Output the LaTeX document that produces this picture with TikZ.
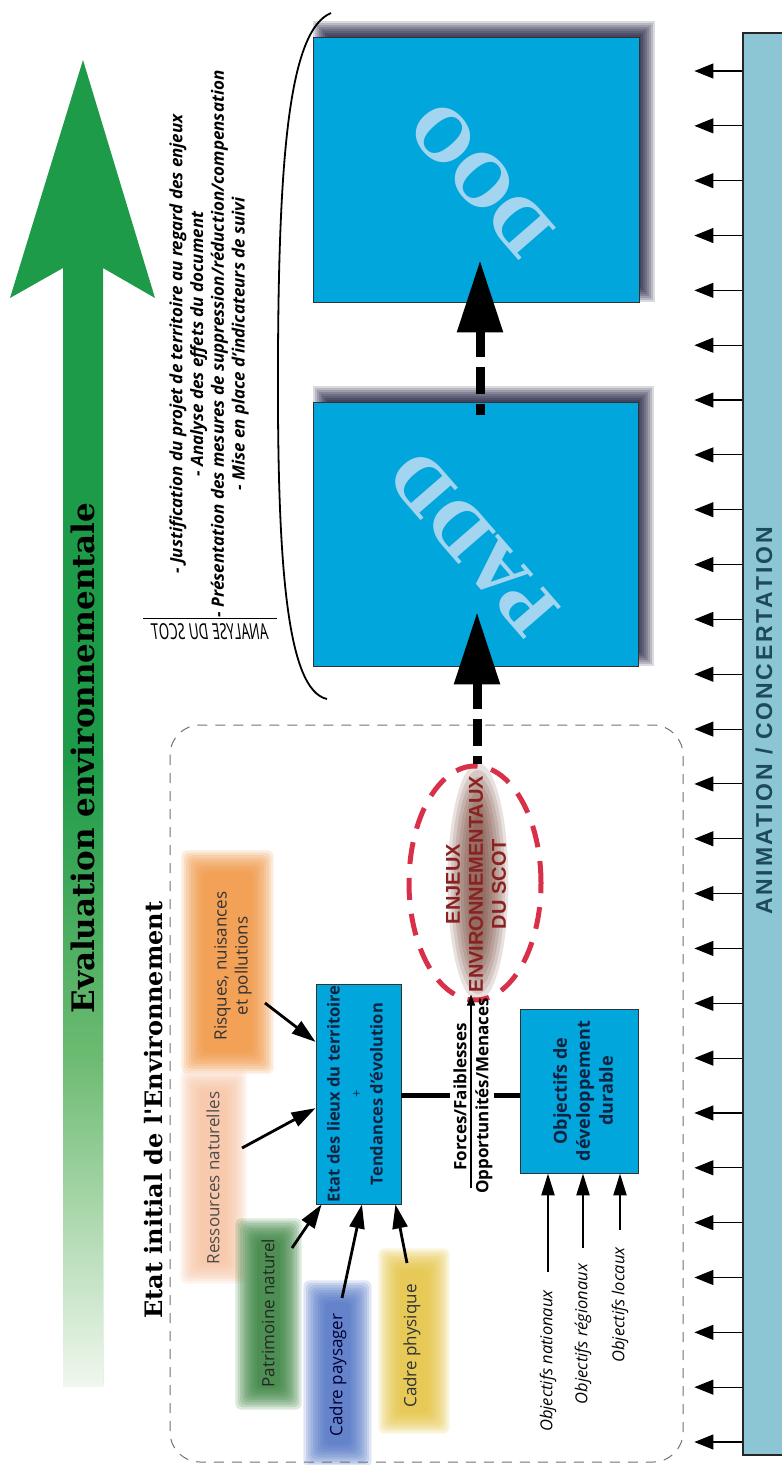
\documentclass[tikz,border=0pt]{standalone}
\usepackage{fontspec}
\setmainfont{Open Sans}
\newfontfamily\dser{DejaVu Serif}
\newfontfamily\lib{Liberation Sans}
\newfontfamily\libsp{Liberation Sans}[LetterSpace=12]
\usetikzlibrary{arrows.meta,calc,shapes.geometric}
\definecolor{boxblue}{HTML}{00A6DC}
\definecolor{letterblue}{HTML}{A3D5F0}
\definecolor{panelfill}{HTML}{8CC6D4}
\definecolor{paneltext}{HTML}{1D4A5A}
\definecolor{evgreen}{HTML}{1E9B48}
\definecolor{evmid}{HTML}{6DBB72}
\definecolor{evpale}{HTML}{F0F7EE}
\definecolor{enjred}{HTML}{D9304A}
\definecolor{enjtext}{HTML}{8A2222}
\definecolor{enjshadow}{HTML}{6E3B2B}
\definecolor{orangeB}{HTML}{F2923A}
\definecolor{peachB}{HTML}{F8C2A0}
\definecolor{greenB}{HTML}{2F7D35}
\definecolor{blueB}{HTML}{4A70C4}
\definecolor{yellowB}{HTML}{E6C23A}
\definecolor{boxtext}{HTML}{0F2340}
\newcommand\softblob[5]{%
  \foreach \dd in {0,...,9}{%
    \fill[#5,opacity=0.17,rounded corners=6pt] (#1+10-2.4*\dd,#2+10-2.4*\dd) rectangle (#3-10+2.4*\dd,#4-10+2.4*\dd);}}
\newcommand\boxshade[4]{%
  \foreach \dd in {0,...,7}{%
    \fill[black!85!blue,opacity=0.15] (#1+14-2*\dd,#2-2-2*\dd) rectangle (#3+2+2*\dd,#4-14+2*\dd);}}
\begin{document}
\begin{tikzpicture}[x=1pt,y=-1pt,
  bluebox/.style={draw=black!80, line width=0.9pt, fill=boxblue, inner sep=0pt},
  boxtxt/.style={rotate=90, align=center, text=boxtext},
  inarrow/.style={line width=2.8pt, -{Triangle[length=24pt,width=15pt]}},
  objarrow/.style={line width=2.4pt, -{Triangle[length=22pt,width=13pt]}},
  panelarrow/.style={line width=1.1pt, -{Triangle[length=19pt,width=15pt]}},
  bigdash/.style={line width=9pt, dash pattern=on 27pt off 10pt},
  thickline/.style={line width=5pt},
  fracarrow/.style={line width=1.2pt, -{Triangle[length=11pt,width=8pt]}},
  blobtxt/.style={rotate=90, align=center, font=\fontsize{17}{21}\selectfont},
  objtxt/.style={rotate=90, font=\itshape\fontsize{16.5}{18}\selectfont},
]
\useasboundingbox (0,0) rectangle (782,1465);
\fill[white] (0,0) rectangle (782,1465);

% green arrow
\fill[evgreen] (83,60) -- (155,298) -- (103,268) -- (103,1385) -- (63,1385) -- (63,268) -- (10,298) -- cycle;
\shade[top color=evgreen, bottom color=evmid] (63,760) rectangle (103,1060);
\shade[top color=evmid, bottom color=evpale] (63,1059) rectangle (103,1386);
\node[rotate=90, font=\dser\bfseries\fontsize{31}{31}\selectfont] (evtxt) at (83,758) {Evaluation environnementale};

% dashed frame
\draw[black!55, line width=1pt, dash pattern=on 10pt off 8pt, rounded corners=30pt] (170,725) rectangle (683,1462);
\node[rotate=90, font=\dser\bfseries\fontsize{24}{24}\selectfont] (eititle) at (154,1110) {Etat initial de l'Environnement};

% bracket and analyse text
\coordinate (brT) at (331,13);
\coordinate (brB) at (327,699);
\draw[line width=1.8pt] (brT) .. controls (290,30) and (279,150) .. (278,355) .. controls (277,560) and (286,690) .. (brB);
\node[rotate=90, align=center, font=\bfseries\itshape\fontsize{17}{20.7}\selectfont] (bullets) at (209,344)
  {- Justification du projet de territoire au regard des enjeux\\- Analyse des effets du document\\- Présentation des mesures de suppression/réduction/compensation\\- Mise en place d'indicateurs de suivi};
\node[xscale=-0.66, font=\itshape\fontsize{22}{22}\selectfont, inner sep=0pt] (analyse) at (210,632) {ANALYSE DU SCOT};
\draw[line width=1pt] (143,618) -- (277,618);

% PADD / DOO boxes
\boxshade{313}{37}{639}{302}
\boxshade{313}{402}{638}{666}
\node[bluebox, minimum width=326pt, minimum height=265pt] (doo) at (476,169.5) {};
\node[bluebox, minimum width=325pt, minimum height=264pt] (padd) at (475.5,534) {};
\node[rotate=131, font=\dser\bfseries\fontsize{68}{68}\selectfont, text=letterblue] (dootxt) at (482,180) {DOO};
\node[rotate=131, font=\dser\bfseries\fontsize{68}{68}\selectfont, text=letterblue] (paddtxt) at (474,544) {PADD};

% blobs
\softblob{193}{862}{262}{1062}{orangeB}
\softblob{192}{1082}{235}{1272}{peachB}
\softblob{247}{1230}{290}{1398}{greenB}
\softblob{315}{1292}{360}{1455}{blueB}
\softblob{390}{1260}{438}{1422}{yellowB}
\node[blobtxt, text=black!80] (risq) at (233,966) {Risques, nuisances\\et pollutions};
\node[blobtxt, text=black!70] (ress) at (213,1178) {Ressources naturelles};
\node[blobtxt, text=black!85] (patr) at (268,1313) {Patrimoine naturel};
\node[blobtxt, text=blue!20!black] (pays) at (338,1375) {Cadre paysager};
\node[blobtxt, text=black!80] (phys) at (412,1346) {Cadre physique};

% enjeux ellipse
\foreach \k in {0,...,7}{%
  \pgfmathsetmacro\rx{8+3.2*\k}\pgfmathsetmacro\ry{70+7*\k}
  \fill[enjshadow, opacity=0.15] (478,882) ellipse [x radius=\rx pt, y radius=\ry pt];}
\node[ellipse, draw=enjred, line width=5pt, dash pattern=on 22pt off 14pt, minimum width=132pt, minimum height=234pt] (enj) at (475,883) {};
\node[rotate=90, align=center, font=\lib\bfseries\fontsize{20}{23}\selectfont, text=enjtext] (enjtxt) at (476,884) {ENJEUX\\ENVIRONNEMENTAUX\\DU SCOT};

% Etat and objectifs boxes
\node[bluebox, minimum width=85pt, minimum height=220pt] (etat) at (358.5,1094) {};
\node[boxtxt, font=\bfseries\fontsize{16.5}{21.5}\selectfont] (etattxt) at (355,1094) {Etat des lieux du territoire\\{\mdseries\fontsize{13}{21.5}\selectfont +}\\Tendances d'évolution};
\node[bluebox, minimum width=118pt, minimum height=164pt] (obj) at (579,1091) {};
\node[boxtxt, font=\bfseries\fontsize{18}{23}\selectfont] (objtxt) at (583,1091) {Objectifs de\\développement\\durable};

% connectors
\coordinate (fA) at (450,1095);
\coordinate (fB) at (494,1095);
\draw[thickline] (etat.east |- fA) -- (fA);
\draw[thickline] (fB) -- (obj.west |- fB);
\node[rotate=90, font=\bfseries\fontsize{17}{18}\selectfont] (forces) at (460,1097) {Forces/Faiblesses};
\node[rotate=90, font=\bfseries\fontsize{17}{18}\selectfont] (opps) at (484,1096) {Opportunités/Menaces};
\coordinate (fL) at (471,1188);
\draw[fracarrow] (fL) -- ($(fL |- enj.south)+(0,-8)$);

\coordinate (tipP) at ($(padd.south)+(1.5,-54)$);
\draw[bigdash, {Triangle[length=72pt,width=44pt]}-] (tipP) -- (tipP |- enj.north);
\coordinate (tipD) at ($(doo.south)+(4,-42)$);
\draw[bigdash, {Triangle[length=72pt,width=44pt]}-] (tipD) -- ($(tipD |- padd.north)+(0,13)$);

% inputs to Etat
\coordinate (sRisq) at (265,1003);
\coordinate (sRess) at (242,1148);
\coordinate (sPatr) at (292,1248);
\coordinate (sPays) at (342,1298);
\coordinate (sPhys) at (407,1263);
\draw[inarrow] (sRisq) -- ($(etat.north west)!0.264!(etat.south west)$);
\draw[inarrow] (sRess) -- ($(etat.north west)!0.564!(etat.south west)$);
\draw[inarrow] (sPatr) -- ($(etat.south west)!0.07!(etat.south east)$);
\draw[inarrow] (sPays) -- ($(etat.south west)!0.54!(etat.south east)$);
\draw[inarrow] (sPhys) -- ($(etat.south west)!0.93!(etat.south east)$);

% objectifs inputs
\node[objtxt] (onat) at (548,1361) {Objectifs nationaux};
\node[objtxt] (oreg) at (583,1334) {Objectifs régionaux};
\node[objtxt] (oloc) at (620,1305) {Objectifs locaux};
\coordinate (aN) at (548,1272);
\coordinate (aR) at (583,1248);
\coordinate (aL) at (620,1230);
\draw[objarrow] (aN) -- (aN |- obj.south);
\draw[objarrow] (aR) -- (aR |- obj.south);
\draw[objarrow] (aL) -- (aL |- obj.south);

% animation panel
\node[draw=black!85, line width=1.2pt, fill=panelfill, minimum width=49pt, minimum height=1422pt, inner sep=0pt] (panel) at (767.5,744) {};
\node[rotate=90, font=\libsp\bfseries\fontsize{23}{23}\selectfont, text=paneltext] (animtxt) at (764,721) {ANIMATION / CONCERTATION};
\foreach \i in {0,...,25}{%
  \pgfmathsetmacro\yy{71+54.84*\i}
  \draw[panelarrow] (panel.west |- 0,\yy) -- ++(-48,0);}
\end{tikzpicture}
\end{document}
